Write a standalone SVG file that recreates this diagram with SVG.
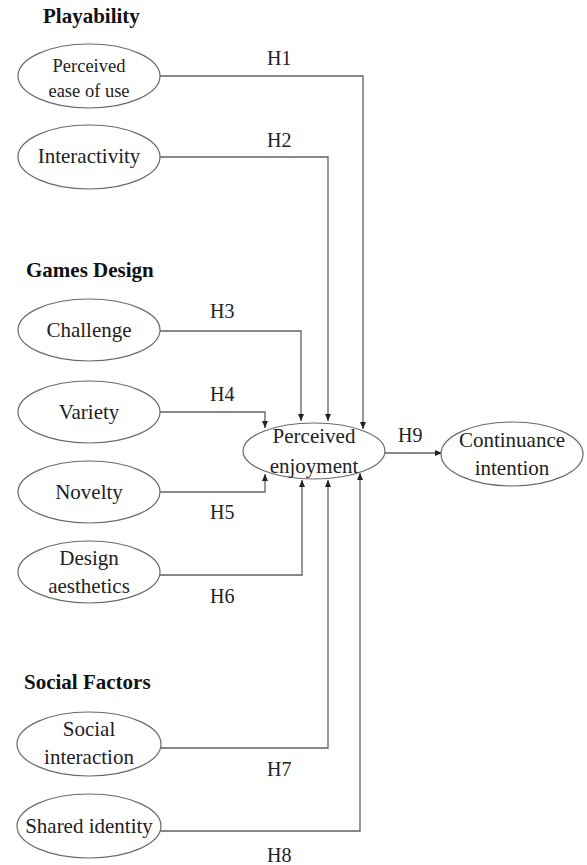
<svg xmlns="http://www.w3.org/2000/svg" width="587" height="865" viewBox="0 0 587 865">
<defs>
<style>
.bg{fill:#fff}
.node ellipse{fill:#fff;stroke:#6a6a6a;stroke-width:1.2}
.t{font-size:21px;fill:#222;text-anchor:middle}
.s{font-size:18.5px}
.h{font-size:21px;font-weight:bold;fill:#111}
.lbl{font-size:20px;fill:#222}
#connectors path{fill:none;stroke:#606060;stroke-width:1.3;marker-end:url(#arr)}
</style>
<marker id="arr" markerUnits="userSpaceOnUse" markerWidth="8" markerHeight="8" viewBox="0 0 8 8" refX="7" refY="4" orient="auto">
<path d="M0,1 L7,4 L0,7 Z" fill="#222"/>
</marker>
</defs>
<rect class="bg" x="0" y="0" width="587" height="865"/>

<g font-family="'Liberation Serif', 'Times New Roman', Times, serif">
<text class="h" x="43" y="23">Playability</text>
<text class="h" x="26" y="277">Games Design</text>
<text class="h" x="24" y="689">Social Factors</text>

<g id="connectors">
<path d="M160,76 H363 V429"/>
<path d="M160,157 H328 V421"/>
<path d="M160,331 H301 V421"/>
<path d="M160,412 H265 V428"/>
<path d="M160,492 H265 V474"/>
<path d="M160,575 H302 V480"/>
<path d="M160,748 H328 V480"/>
<path d="M160,831 H360 V473"/>
<path d="M385,453 H442"/>
</g>

<g id="labels">
<text class="lbl" x="267" y="65">H1</text>
<text class="lbl" x="267" y="147">H2</text>
<text class="lbl" x="210" y="318">H3</text>
<text class="lbl" x="210" y="401">H4</text>
<text class="lbl" x="210" y="519">H5</text>
<text class="lbl" x="210" y="603">H6</text>
<text class="lbl" x="267" y="776">H7</text>
<text class="lbl" x="267" y="862">H8</text>
<text class="lbl" x="398" y="442">H9</text>
</g>

<g id="peou" class="node">
<ellipse cx="89" cy="76" rx="71" ry="32"/>
<text class="t s" x="89" y="72">Perceived</text>
<text class="t s" x="89" y="97">ease of use</text>
</g>
<g id="interactivity" class="node">
<ellipse cx="89" cy="157" rx="71" ry="32"/>
<text class="t" x="89" y="163">Interactivity</text>
</g>
<g id="challenge" class="node">
<ellipse cx="89" cy="330" rx="71" ry="31"/>
<text class="t" x="89" y="337">Challenge</text>
</g>
<g id="variety" class="node">
<ellipse cx="89" cy="412" rx="71" ry="31"/>
<text class="t" x="89" y="419">Variety</text>
</g>
<g id="novelty" class="node">
<ellipse cx="89" cy="492" rx="71" ry="31"/>
<text class="t" x="89" y="499">Novelty</text>
</g>
<g id="design" class="node">
<ellipse cx="89" cy="572" rx="71" ry="31"/>
<text class="t" x="89" y="565">Design</text>
<text class="t" x="89" y="593">aesthetics</text>
</g>
<g id="enjoyment" class="node">
<ellipse cx="314" cy="451" rx="71" ry="28"/>
<text class="t" x="314" y="443">Perceived</text>
<text class="t" x="314" y="473">enjoyment</text>
</g>
<g id="continuance" class="node">
<ellipse cx="512" cy="454" rx="71" ry="32"/>
<text class="t" x="512" y="447">Continuance</text>
<text class="t" x="512" y="475">intention</text>
</g>
<g id="social" class="node">
<ellipse cx="89" cy="744" rx="72" ry="32"/>
<text class="t" x="89" y="736">Social</text>
<text class="t" x="89" y="764">interaction</text>
</g>
<g id="shared" class="node">
<ellipse cx="89" cy="826" rx="72" ry="32"/>
<text class="t" x="89" y="833">Shared identity</text>
</g>
</g>
</svg>
